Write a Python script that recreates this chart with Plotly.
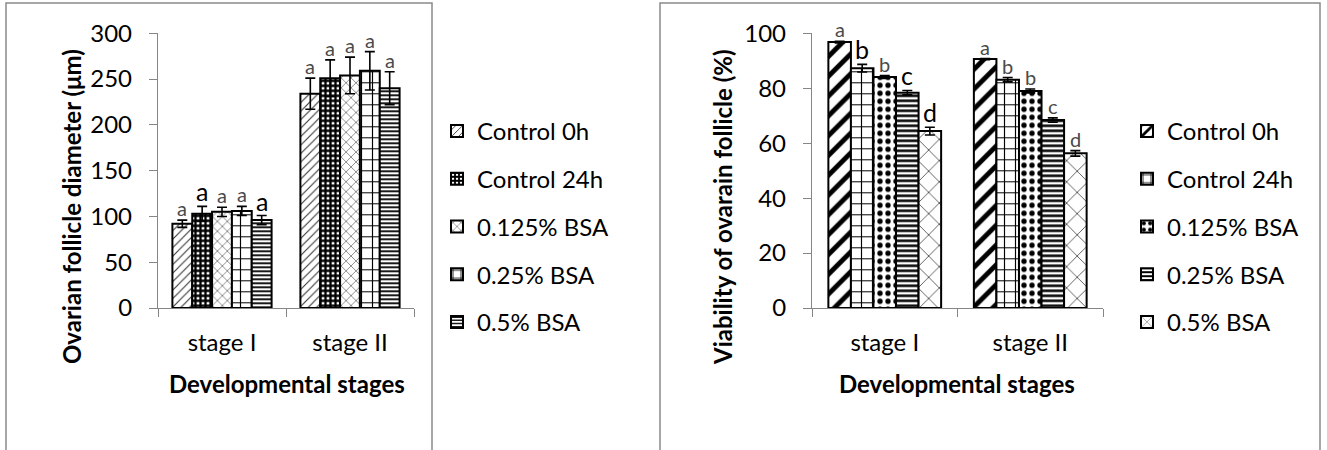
import plotly.graph_objects as go

W, H = 1327, 450

stages = ["stage I", "stage II"]
treatments = ["Control 0h", "Control 24h", "0.125% BSA", "0.25% BSA", "0.5% BSA"]

# Ovarian follicle diameter (µm), values are [stage I, stage II]
diam_control_0h = [92, 234]
diam_control_24h = [103, 251]
diam_bsa_0125 = [105, 254]
diam_bsa_025 = [106, 259]
diam_bsa_05 = [96, 240]
diam_err_control_0h = [4, 17]
diam_err_control_24h = [8, 20]
diam_err_bsa_0125 = [5, 20]
diam_err_bsa_025 = [5, 21]
diam_err_bsa_05 = [5, 18]
diam_letters_stage1 = ["a", "a", "a", "a", "a"]
diam_letters_stage2 = ["a", "a", "a", "a", "a"]

# Viability of ovarian follicles (%), values are [stage I, stage II]
viab_control_0h = [96.8, 90.6]
viab_control_24h = [87.3, 83.1]
viab_bsa_0125 = [84.1, 79.0]
viab_bsa_025 = [78.4, 68.4]
viab_bsa_05 = [64.4, 56.3]
viab_err_control_0h = [0.3, 0.2]
viab_err_control_24h = [1.4, 0.8]
viab_err_bsa_0125 = [0.5, 0.7]
viab_err_bsa_025 = [0.8, 0.8]
viab_err_bsa_05 = [1.4, 1.0]
viab_letters_stage1 = ["a", "b", "b", "c", "d"]
viab_letters_stage2 = ["a", "b", "b", "c", "d"]

diam_means = [diam_control_0h, diam_control_24h, diam_bsa_0125, diam_bsa_025, diam_bsa_05]
diam_errs = [diam_err_control_0h, diam_err_control_24h, diam_err_bsa_0125,
             diam_err_bsa_025, diam_err_bsa_05]
viab_means = [viab_control_0h, viab_control_24h, viab_bsa_0125, viab_bsa_025, viab_bsa_05]
viab_errs = [viab_err_control_0h, viab_err_control_24h, viab_err_bsa_0125,
             viab_err_bsa_025, viab_err_bsa_05]

FONT = "Lato, Carlito, Calibri, sans-serif"
AXIS_GREY = "#868686"
BARGAP = 0.225

# fill patterns per treatment
diam_patterns = [
    dict(shape="/", size=6, solidity=0.18, fgcolor="#333333"),
    dict(shape="+", size=5, solidity=0.7, fgcolor="#000000"),
    dict(shape="x", size=7, solidity=0.18, fgcolor="#555555"),
    dict(shape="+", size=11, solidity=0.2, fgcolor="#000000"),
    dict(shape="-", size=4, solidity=0.45, fgcolor="#000000"),
]
viab_patterns = [
    dict(shape="/", size=14, solidity=0.35, fgcolor="#000000"),
    dict(shape="+", size=11, solidity=0.2, fgcolor="#000000"),
    dict(shape=".", size=8, solidity=0.35, fgcolor="#000000"),
    dict(shape="-", size=5, solidity=0.5, fgcolor="#000000"),
    dict(shape="x", size=15, solidity=0.08, fgcolor="#000000"),
]

# letters drawn larger and darker: (stage index, treatment index)
diam_bold_letters = {(0, 1), (0, 4)}
viab_bold_letters = {(0, 1), (0, 3), (0, 4)}


def px_x(v):
    return v / W


def px_y(v):
    return 1 - v / H


fig = go.Figure()


def add_panel(means, errs, patterns, xa, ya, legend):
    for i, name in enumerate(treatments):
        fig.add_trace(go.Bar(
            x=stages, y=means[i], name=name,
            xaxis=xa, yaxis=ya, legend=legend, legendgroup=legend + str(i),
            marker=dict(color="white",
                        line=dict(color="black", width=2),
                        pattern=dict(bgcolor="white", fillmode="replace", **patterns[i])),
            error_y=dict(type="data", array=errs[i], color="black",
                         thickness=1.6, width=5),
        ))


add_panel(diam_means, diam_errs, diam_patterns, "x", "y", "legend")
add_panel(viab_means, viab_errs, viab_patterns, "x2", "y2", "legend2")

# significance letters above the error bars
annotations = []
n = len(treatments)
bar_w = (1 - BARGAP) / n


def add_letters(means, errs, letters_by_stage, bold_set, xref, yref):
    for s, letters in enumerate(letters_by_stage):
        for i, letter in enumerate(letters):
            xpos = s - (1 - BARGAP) / 2 + (i + 0.5) * bar_w
            bold = (s, i) in bold_set
            annotations.append(dict(
                x=xpos, y=means[i][s] + errs[i][s], xref=xref, yref=yref,
                text=letter, showarrow=False, yanchor="bottom", xanchor="center",
                yshift=-2,
                font=dict(family=FONT, size=25 if bold else 20,
                          color="#000000" if bold else "#4a4a4a"),
            ))


add_letters(diam_means, diam_errs, [diam_letters_stage1, diam_letters_stage2],
            diam_bold_letters, "x", "y")
add_letters(viab_means, viab_errs, [viab_letters_stage1, viab_letters_stage2],
            viab_bold_letters, "x2", "y2")

title_font = dict(family=FONT, size=24, color="black")
for txt, x, y, ang in [
    ("<b>Ovarian follicle diameter (μm)</b>", 72, 207, -90),
    ("<b>Developmental stages</b>", 287, 383, 0),
    ("<b>Viability of ovarain follicle (%)</b>", 723, 207, -90),
    ("<b>Developmental stages</b>", 957, 383, 0),
]:
    annotations.append(dict(
        x=px_x(x), y=px_y(y), xref="paper", yref="paper", text=txt,
        showarrow=False, textangle=ang, xanchor="center", yanchor="middle",
        font=title_font,
    ))

# chart frames
shapes = [
    dict(type="rect", xref="paper", yref="paper", x0=px_x(6), x1=px_x(432),
         y0=-0.1, y1=px_y(3), line=dict(color="#8a8a8a", width=1.5)),
    dict(type="rect", xref="paper", yref="paper", x0=px_x(660), x1=px_x(1320),
         y0=-0.1, y1=px_y(3), line=dict(color="#8a8a8a", width=1.5)),
]

tick_font = dict(family=FONT, size=24, color="black")
common_x = dict(type="category", showline=True, linecolor=AXIS_GREY, linewidth=1.3,
                ticks="outside", tickson="boundaries", ticklen=8, tickcolor=AXIS_GREY,
                tickwidth=1.3, tickfont=tick_font, showgrid=False, zeroline=False,
                ticklabelstandoff=13)
common_y = dict(showline=True, linecolor=AXIS_GREY, linewidth=1.3, ticks="outside",
                ticklen=8, tickcolor=AXIS_GREY, tickwidth=1.3, tickfont=tick_font,
                showgrid=False, zeroline=False, ticklabelstandoff=12)

legend_common = dict(font=dict(family=FONT, size=24, color="black"),
                     bgcolor="rgba(0,0,0,0)", borderwidth=0, tracegroupgap=13.5,
                     xanchor="left", yanchor="top", itemclick=False)

fig.update_layout(
    width=W, height=H, template="none",
    paper_bgcolor="white", plot_bgcolor="white",
    margin=dict(l=0, r=0, t=0, b=0),
    barmode="group", bargap=BARGAP, bargroupgap=0,
    xaxis=dict(domain=[px_x(158), px_x(414)], anchor="y", **common_x),
    yaxis=dict(domain=[px_y(308), px_y(33.3)], anchor="x", range=[0, 300],
               dtick=50, **common_y),
    xaxis2=dict(domain=[px_x(812), px_x(1103)], anchor="y2", **common_x),
    yaxis2=dict(domain=[px_y(308), px_y(33.3)], anchor="x2", range=[0, 100],
                dtick=20, **common_y),
    legend=dict(x=px_x(437), y=px_y(109), **legend_common),
    legend2=dict(x=px_x(1127), y=px_y(109), **legend_common),
    annotations=annotations,
    shapes=shapes,
    showlegend=True,
)

fig.write_html("out.html")
